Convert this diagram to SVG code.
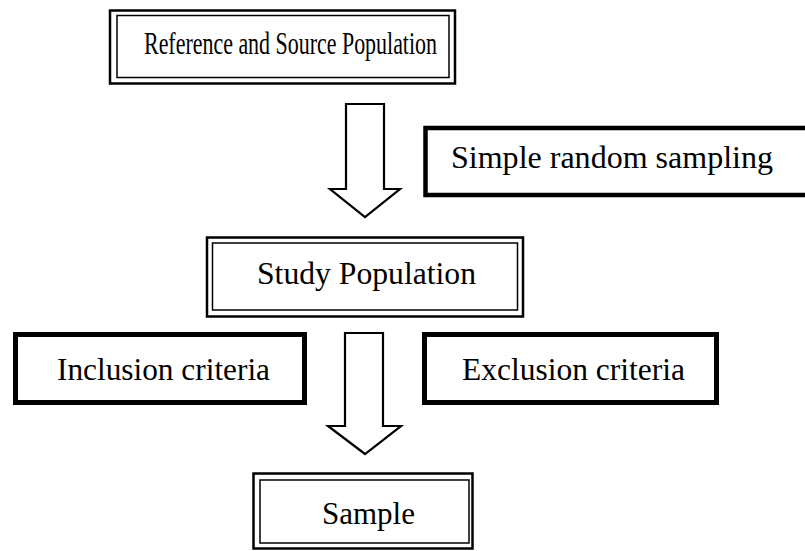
<svg xmlns="http://www.w3.org/2000/svg" width="805" height="551" viewBox="0 0 805 551">
<style>
  .bg{fill:#fff}
  .outer{fill:#fff;stroke:#000;stroke-width:2.5}
  .inner{fill:none;stroke:#000;stroke-width:1.5}
  .thick{fill:#fff;stroke:#000;stroke-width:5}
  .arrow{fill:#fff;stroke:#000;stroke-width:2.2;stroke-linejoin:miter}
  text{font-family:"Liberation Serif","Times New Roman",serif;font-size:31px;fill:#000}
</style>
<rect class="bg" x="0" y="0" width="805" height="551"/>
<g id="connectors">
  <polygon class="arrow" points="346,104 384,104 384,189 400,189 365,217 330,189 346,189"/>
  <polygon class="arrow" points="345,333 383,333 383,426 401,426 365,454 328,426 345,426"/>
</g>
<g id="reference">
  <rect class="outer" x="110" y="10.5" width="345" height="73"/>
  <rect class="inner" x="117" y="15.5" width="332" height="62"/>
  <text x="144" y="54" textLength="293" lengthAdjust="spacingAndGlyphs">Reference and Source Population</text>
</g>
<g id="simple-random">
  <rect class="thick" x="425.5" y="128" width="400" height="67" style="stroke-width:4.5"/>
  <text x="451" y="168" textLength="322" lengthAdjust="spacingAndGlyphs">Simple random sampling</text>
</g>
<g id="study">
  <rect class="outer" x="207" y="237.5" width="316" height="79"/>
  <rect class="inner" x="212.5" y="243" width="305" height="67"/>
  <text x="257" y="284" textLength="219" lengthAdjust="spacingAndGlyphs">Study Population</text>
</g>
<g id="inclusion">
  <rect class="thick" x="15.5" y="334.5" width="289" height="68"/>
  <text x="57" y="380" textLength="213" lengthAdjust="spacingAndGlyphs">Inclusion criteria</text>
</g>
<g id="exclusion">
  <rect class="thick" x="424.5" y="334.5" width="292" height="68"/>
  <text x="462" y="380" textLength="223" lengthAdjust="spacingAndGlyphs">Exclusion criteria</text>
</g>
<g id="sample">
  <rect class="outer" x="253.5" y="473.5" width="219" height="75"/>
  <rect class="inner" x="260" y="480" width="209" height="63"/>
  <text x="322" y="524" textLength="93" lengthAdjust="spacingAndGlyphs">Sample</text>
</g>
</svg>
